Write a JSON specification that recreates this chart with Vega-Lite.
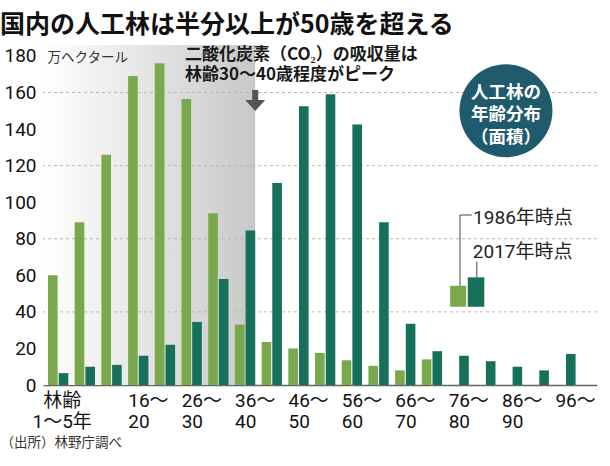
{
  "$schema": "https://vega.github.io/schema/vega-lite/v6.json",
  "width": 554,
  "height": 340,
  "autosize": "none",
  "padding": {"left": 43, "top": 45, "right": 13, "bottom": 81},
  "background": "white",
  "title": {
    "text": "国内の人工林は半分以上が50歳を超える",
    "anchor": "start", "frame": "group", "dx": -43, "dy": 28, "offset": 15, "baseline": "alphabetic",
    "font": "Noto Sans CJK JP", "fontSize": 25, "fontWeight": "bold", "color": "#111111"
  },
  "config": {"view": {"stroke": null}, "font": "Noto Sans CJK JP"},
  "data": {"values": [{}]},
  "layer": [
    {
      "mark": {"type": "rect", "fill": {"gradient": "linear", "x1": 0, "y1": 0, "x2": 1, "y2": 0,
        "stops": [{"offset": 0, "color": "#ffffff"}, {"offset": 1, "color": "#c8c8c8"}]}},
      "encoding": {
        "x": {"datum": -0.187, "type": "quantitative", "scale": {"domain": [-0.187, 20.56], "nice": false, "zero": false}, "axis": null},
        "x2": {"datum": 7.76},
        "y": {"datum": 0, "type": "quantitative", "axis": null},
        "y2": {"datum": 186}
      }
    },
    {
      "data": {"values": [{"g": 40}, {"g": 80}, {"g": 120}, {"g": 160}]},
      "mark": {"type": "rule", "color": "#b5b5b5", "strokeDash": [3, 3], "strokeWidth": 1},
      "encoding": {"y": {"field": "g", "type": "quantitative", "axis": null}}
    },
    {
      "data": {"values": [
        {"age": "1〜5", "year": "1986", "v": 60}, {"age": "1〜5", "year": "2017", "v": 6.5},
        {"age": "6〜10", "year": "1986", "v": 89}, {"age": "6〜10", "year": "2017", "v": 10},
        {"age": "11〜15", "year": "1986", "v": 126}, {"age": "11〜15", "year": "2017", "v": 11},
        {"age": "16〜20", "year": "1986", "v": 169}, {"age": "16〜20", "year": "2017", "v": 16},
        {"age": "21〜25", "year": "1986", "v": 176}, {"age": "21〜25", "year": "2017", "v": 22},
        {"age": "26〜30", "year": "1986", "v": 156.5}, {"age": "26〜30", "year": "2017", "v": 34.5},
        {"age": "31〜35", "year": "1986", "v": 94}, {"age": "31〜35", "year": "2017", "v": 58},
        {"age": "36〜40", "year": "1986", "v": 33}, {"age": "36〜40", "year": "2017", "v": 84.5},
        {"age": "41〜45", "year": "1986", "v": 23.5}, {"age": "41〜45", "year": "2017", "v": 110.5},
        {"age": "46〜50", "year": "1986", "v": 20}, {"age": "46〜50", "year": "2017", "v": 152.5},
        {"age": "51〜55", "year": "1986", "v": 17.5}, {"age": "51〜55", "year": "2017", "v": 159},
        {"age": "56〜60", "year": "1986", "v": 13.5}, {"age": "56〜60", "year": "2017", "v": 142.5},
        {"age": "61〜65", "year": "1986", "v": 10.5}, {"age": "61〜65", "year": "2017", "v": 89},
        {"age": "66〜70", "year": "1986", "v": 8}, {"age": "66〜70", "year": "2017", "v": 33.5},
        {"age": "71〜75", "year": "1986", "v": 14}, {"age": "71〜75", "year": "2017", "v": 18.5},
        {"age": "76〜80", "year": "2017", "v": 16},
        {"age": "81〜85", "year": "2017", "v": 13},
        {"age": "86〜90", "year": "2017", "v": 10},
        {"age": "91〜95", "year": "2017", "v": 8},
        {"age": "96〜", "year": "2017", "v": 17}
      ]},
      "mark": {"type": "bar"},
      "encoding": {
        "x": {
          "field": "age", "type": "nominal", "sort": null,
          "scale": {"domain": ["1〜5", "6〜10", "11〜15", "16〜20", "21〜25", "26〜30", "31〜35", "36〜40", "41〜45", "46〜50", "51〜55", "56〜60", "61〜65", "66〜70", "71〜75", "76〜80", "81〜85", "86〜90", "91〜95", "96〜"],
            "paddingInner": 0.24, "paddingOuter": 0.495, "align": 0.19},
          "axis": {
            "title": "（出所）林野庁調べ", "titleX": -43, "titleY": 57, "titleAlign": "left", "titleAnchor": "start",
            "titleBaseline": "middle", "titleFont": "Noto Sans CJK JP", "titleFontSize": 13.5, "titleFontWeight": "normal", "titleColor": "#333333",
            "ticks": false, "grid": false, "domainColor": "#666666", "domainWidth": 1.5,
            "labelAngle": 0,
            "labelAlign": {"condition": {"test": "datum.value == '1〜5'", "value": "center"}, "value": "left"},
            "labelOffset": {"condition": {"test": "datum.value == '1〜5'", "value": 4}, "value": -10},
            "labelBaseline": "top", "labelPadding": 6, "labelFont": "Roboto, Noto Sans CJK JP", "labelFontSize": 19,
            "labelColor": "#111111", "labelLineHeight": 21.5, "labelOverlap": false, "labelBound": false,
            "labelExpr": "datum.value == '1〜5' ? ['林齢', '1〜5年'] : (indexof(['16〜20','26〜30','36〜40','46〜50','56〜60','66〜70','76〜80','86〜90'], datum.value) >= 0 ? [split(datum.value, '〜')[0] + '〜', split(datum.value, '〜')[1]] : (datum.value == '96〜' ? '96〜' : ''))"
          }
        },
        "xOffset": {"field": "year", "type": "nominal", "scale": {"domain": ["1986", "2017"], "paddingInner": 0.1, "paddingOuter": 0}},
        "y": {
          "field": "v", "type": "quantitative", "scale": {"domain": [0, 186], "nice": false},
          "axis": {
            "values": [0, 20, 40, 60, 80, 100, 120, 140, 160, 180], "zindex": 1,
            "title": "万ヘクタール", "titleAngle": 0, "titleX": 4, "titleY": 12.5, "titleAlign": "left", "titleAnchor": "start",
            "titleBaseline": "middle", "titleFont": "Noto Sans CJK JP", "titleFontSize": 13.5, "titleFontWeight": "normal", "titleColor": "#333333",
            "domain": false, "ticks": false, "grid": false, "labelOverlap": false,
            "labelFont": "Roboto", "labelFontSize": 19, "labelColor": "#111111", "labelPadding": 7
          }
        },
        "color": {"field": "year", "type": "nominal", "scale": {"domain": ["1986", "2017"], "range": ["#7aa84c", "#17705a"]}, "legend": null}
      }
    },
    {
      "mark": {"type": "point", "shape": "M-0.3,-1L0.3,-1L0.3,0L1,0L0,1.1L-1,0L-0.3,0Z", "filled": true, "fill": "#555555", "size": 400, "strokeWidth": 0, "opacity": 1},
      "encoding": {
        "x": {"datum": 7.76, "type": "quantitative", "scale": {"domain": [-0.187, 20.56], "nice": false, "zero": false}, "axis": null},
        "y": {"datum": 155.9, "type": "quantitative", "axis": null}
      }
    },
    {
      "mark": {"type": "text", "text": "二酸化炭素（CO₂）の吸収量は\n林齢30〜40歳程度がピーク", "lineBreak": "\n",
        "align": "left", "baseline": "middle", "fontSize": 17, "fontWeight": "bold", "lineHeight": 19.5, "color": "#1a1a1a", "font": "Noto Sans CJK JP"},
      "encoding": {
        "x": {"datum": 5.13, "type": "quantitative", "scale": {"domain": [-0.187, 20.56], "nice": false, "zero": false}, "axis": null},
        "y": {"datum": 180.5, "type": "quantitative", "axis": null}
      }
    },
    {
      "mark": {"type": "point", "shape": "circle", "filled": true, "fill": "#1f5b6d", "size": 8649, "strokeWidth": 0, "opacity": 1},
      "encoding": {
        "x": {"datum": 17.15, "type": "quantitative", "scale": {"domain": [-0.187, 20.56], "nice": false, "zero": false}, "axis": null},
        "y": {"datum": 150, "type": "quantitative", "axis": null}
      }
    },
    {
      "mark": {"type": "text", "text": "人工林の\n年齢分布\n（面積）", "lineBreak": "\n",
        "align": "center", "baseline": "middle", "fontSize": 17.5, "fontWeight": "bold", "lineHeight": 22.5, "color": "#ffffff", "font": "Noto Sans CJK JP"},
      "encoding": {
        "x": {"datum": 17.15, "type": "quantitative", "scale": {"domain": [-0.187, 20.56], "nice": false, "zero": false}, "axis": null},
        "y": {"datum": 160, "type": "quantitative", "axis": null}
      }
    },
    {
      "mark": {"type": "rect", "fill": "#7aa84c"},
      "encoding": {
        "x": {"datum": 15.06, "type": "quantitative", "scale": {"domain": [-0.187, 20.56], "nice": false, "zero": false}, "axis": null},
        "x2": {"datum": 15.66},
        "y": {"datum": 42.8, "type": "quantitative", "axis": null},
        "y2": {"datum": 54.3}
      }
    },
    {
      "mark": {"type": "rect", "fill": "#17705a"},
      "encoding": {
        "x": {"datum": 15.72, "type": "quantitative", "scale": {"domain": [-0.187, 20.56], "nice": false, "zero": false}, "axis": null},
        "x2": {"datum": 16.34},
        "y": {"datum": 42.8, "type": "quantitative", "axis": null},
        "y2": {"datum": 58.9}
      }
    },
    {
      "mark": {"type": "rule", "color": "#444444", "strokeWidth": 1},
      "encoding": {
        "x": {"datum": 15.43, "type": "quantitative", "scale": {"domain": [-0.187, 20.56], "nice": false, "zero": false}, "axis": null},
        "y": {"datum": 54.3, "type": "quantitative", "axis": null},
        "y2": {"datum": 93}
      }
    },
    {
      "mark": {"type": "rule", "color": "#444444", "strokeWidth": 1},
      "encoding": {
        "x": {"datum": 15.43, "type": "quantitative", "scale": {"domain": [-0.187, 20.56], "nice": false, "zero": false}, "axis": null},
        "x2": {"datum": 15.87},
        "y": {"datum": 93, "type": "quantitative", "axis": null}
      }
    },
    {
      "mark": {"type": "rule", "color": "#444444", "strokeWidth": 1},
      "encoding": {
        "x": {"datum": 16.06, "type": "quantitative", "scale": {"domain": [-0.187, 20.56], "nice": false, "zero": false}, "axis": null},
        "y": {"datum": 58.9, "type": "quantitative", "axis": null},
        "y2": {"datum": 67.5}
      }
    },
    {
      "mark": {"type": "text", "text": "1986年時点", "align": "left", "baseline": "middle", "fontSize": 19, "color": "#222222", "font": "Roboto, Noto Sans CJK JP"},
      "encoding": {
        "x": {"datum": 15.92, "type": "quantitative", "scale": {"domain": [-0.187, 20.56], "nice": false, "zero": false}, "axis": null},
        "y": {"datum": 91.2, "type": "quantitative", "axis": null}
      }
    },
    {
      "mark": {"type": "text", "text": "2017年時点", "align": "left", "baseline": "middle", "fontSize": 19, "color": "#222222", "font": "Roboto, Noto Sans CJK JP"},
      "encoding": {
        "x": {"datum": 15.91, "type": "quantitative", "scale": {"domain": [-0.187, 20.56], "nice": false, "zero": false}, "axis": null},
        "y": {"datum": 72.9, "type": "quantitative", "axis": null}
      }
    }
  ],
  "resolve": {"scale": {"x": "independent"}, "axis": {"y": "independent"}}
}
